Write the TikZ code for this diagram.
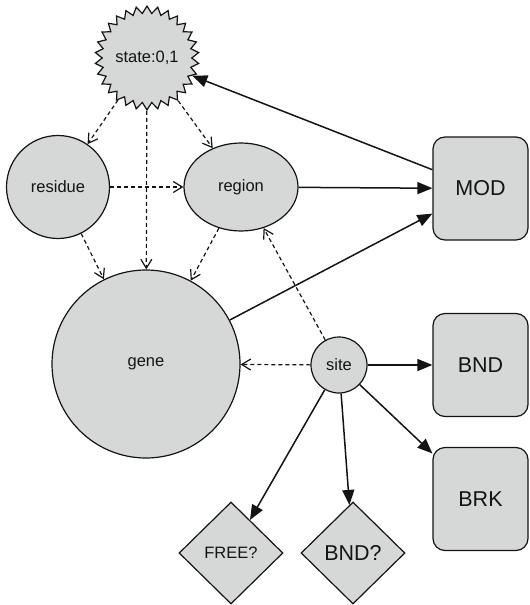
\documentclass[tikz,border=0pt]{standalone}
\usepackage{fontspec}
\setmainfont{Liberation Sans}
\usetikzlibrary{shapes.geometric,arrows.meta}
\definecolor{nodefill}{RGB}{214,215,215}
\definecolor{ink}{RGB}{20,20,20}
\tikzset{
  base/.style={draw=ink, fill=nodefill, line width=1.2pt, inner sep=0pt, text=ink,
               font=\fontsize{16.5}{20}\selectfont},
  circ/.style={base, circle, minimum size=#1},
  oval/.style={base, ellipse, minimum width=114pt, minimum height=88pt},
  burst/.style={base, star, star points=30, star point ratio=1.16, minimum size=101pt},
  rbox/.style={base, rounded corners=12pt, minimum width=95pt, minimum height=103pt,
               font=\fontsize{21.5}{24}\selectfont},
  dia/.style={base, diamond, minimum width=104pt, minimum height=102pt},
  solidarrow/.style={draw=ink, line width=1.5pt, -{Triangle[length=15pt,width=12pt]}},
  dasharrow/.style={draw=ink, line width=1.2pt, dash pattern=on 4pt off 3pt,
                    -{Straight Barb[length=9pt,width=11pt,line width=1.2pt]}}
}
\begin{document}
\begin{tikzpicture}[x=1pt,y=-1pt]
\useasboundingbox (0,0) rectangle (530,605);

% entity nodes
\node[burst] (state) at (147,58) {state:0,1};
\node[circ=103pt] (residue) at (58,187) {residue};
\node[oval] (region) at (241,187) {region};
\node[circ=188pt] (gene) at (146,364) {gene};
\node[circ=56pt] (site) at (339,365) {site};

% rule boxes
\node[rbox] (mod) at (480.5,188.5) {MOD};
\node[rbox] (bnd) at (480.5,365) {BND};
\node[rbox] (brk) at (480.5,499) {BRK};

% tests
\node[dia] (free) at (231,553) {FREE?};
\node[dia, font=\fontsize{21.5}{24}\selectfont] (bndq) at (353,553) {BND?};

% containment links
\draw[dasharrow] (state) -- (residue);
\draw[dasharrow] (state) -- (gene);
\draw[dasharrow] (state) -- (region);
\draw[dasharrow] (residue) -- (region);
\draw[dasharrow] (residue) -- (gene);
\draw[dasharrow] (region) -- (gene);
\draw[dasharrow] (site) -- (region);
\draw[dasharrow] (site) -- (gene);

% rule links
\draw[solidarrow] (mod) -- (state);
\draw[solidarrow] (region) -- (mod);
\draw[solidarrow] (gene) -- (mod);
\draw[solidarrow] (site) -- (bnd);
\draw[solidarrow] (site) -- (brk);
\draw[solidarrow] (site) -- (free);
\draw[solidarrow] (site) -- (bndq);
\end{tikzpicture}
\end{document}
